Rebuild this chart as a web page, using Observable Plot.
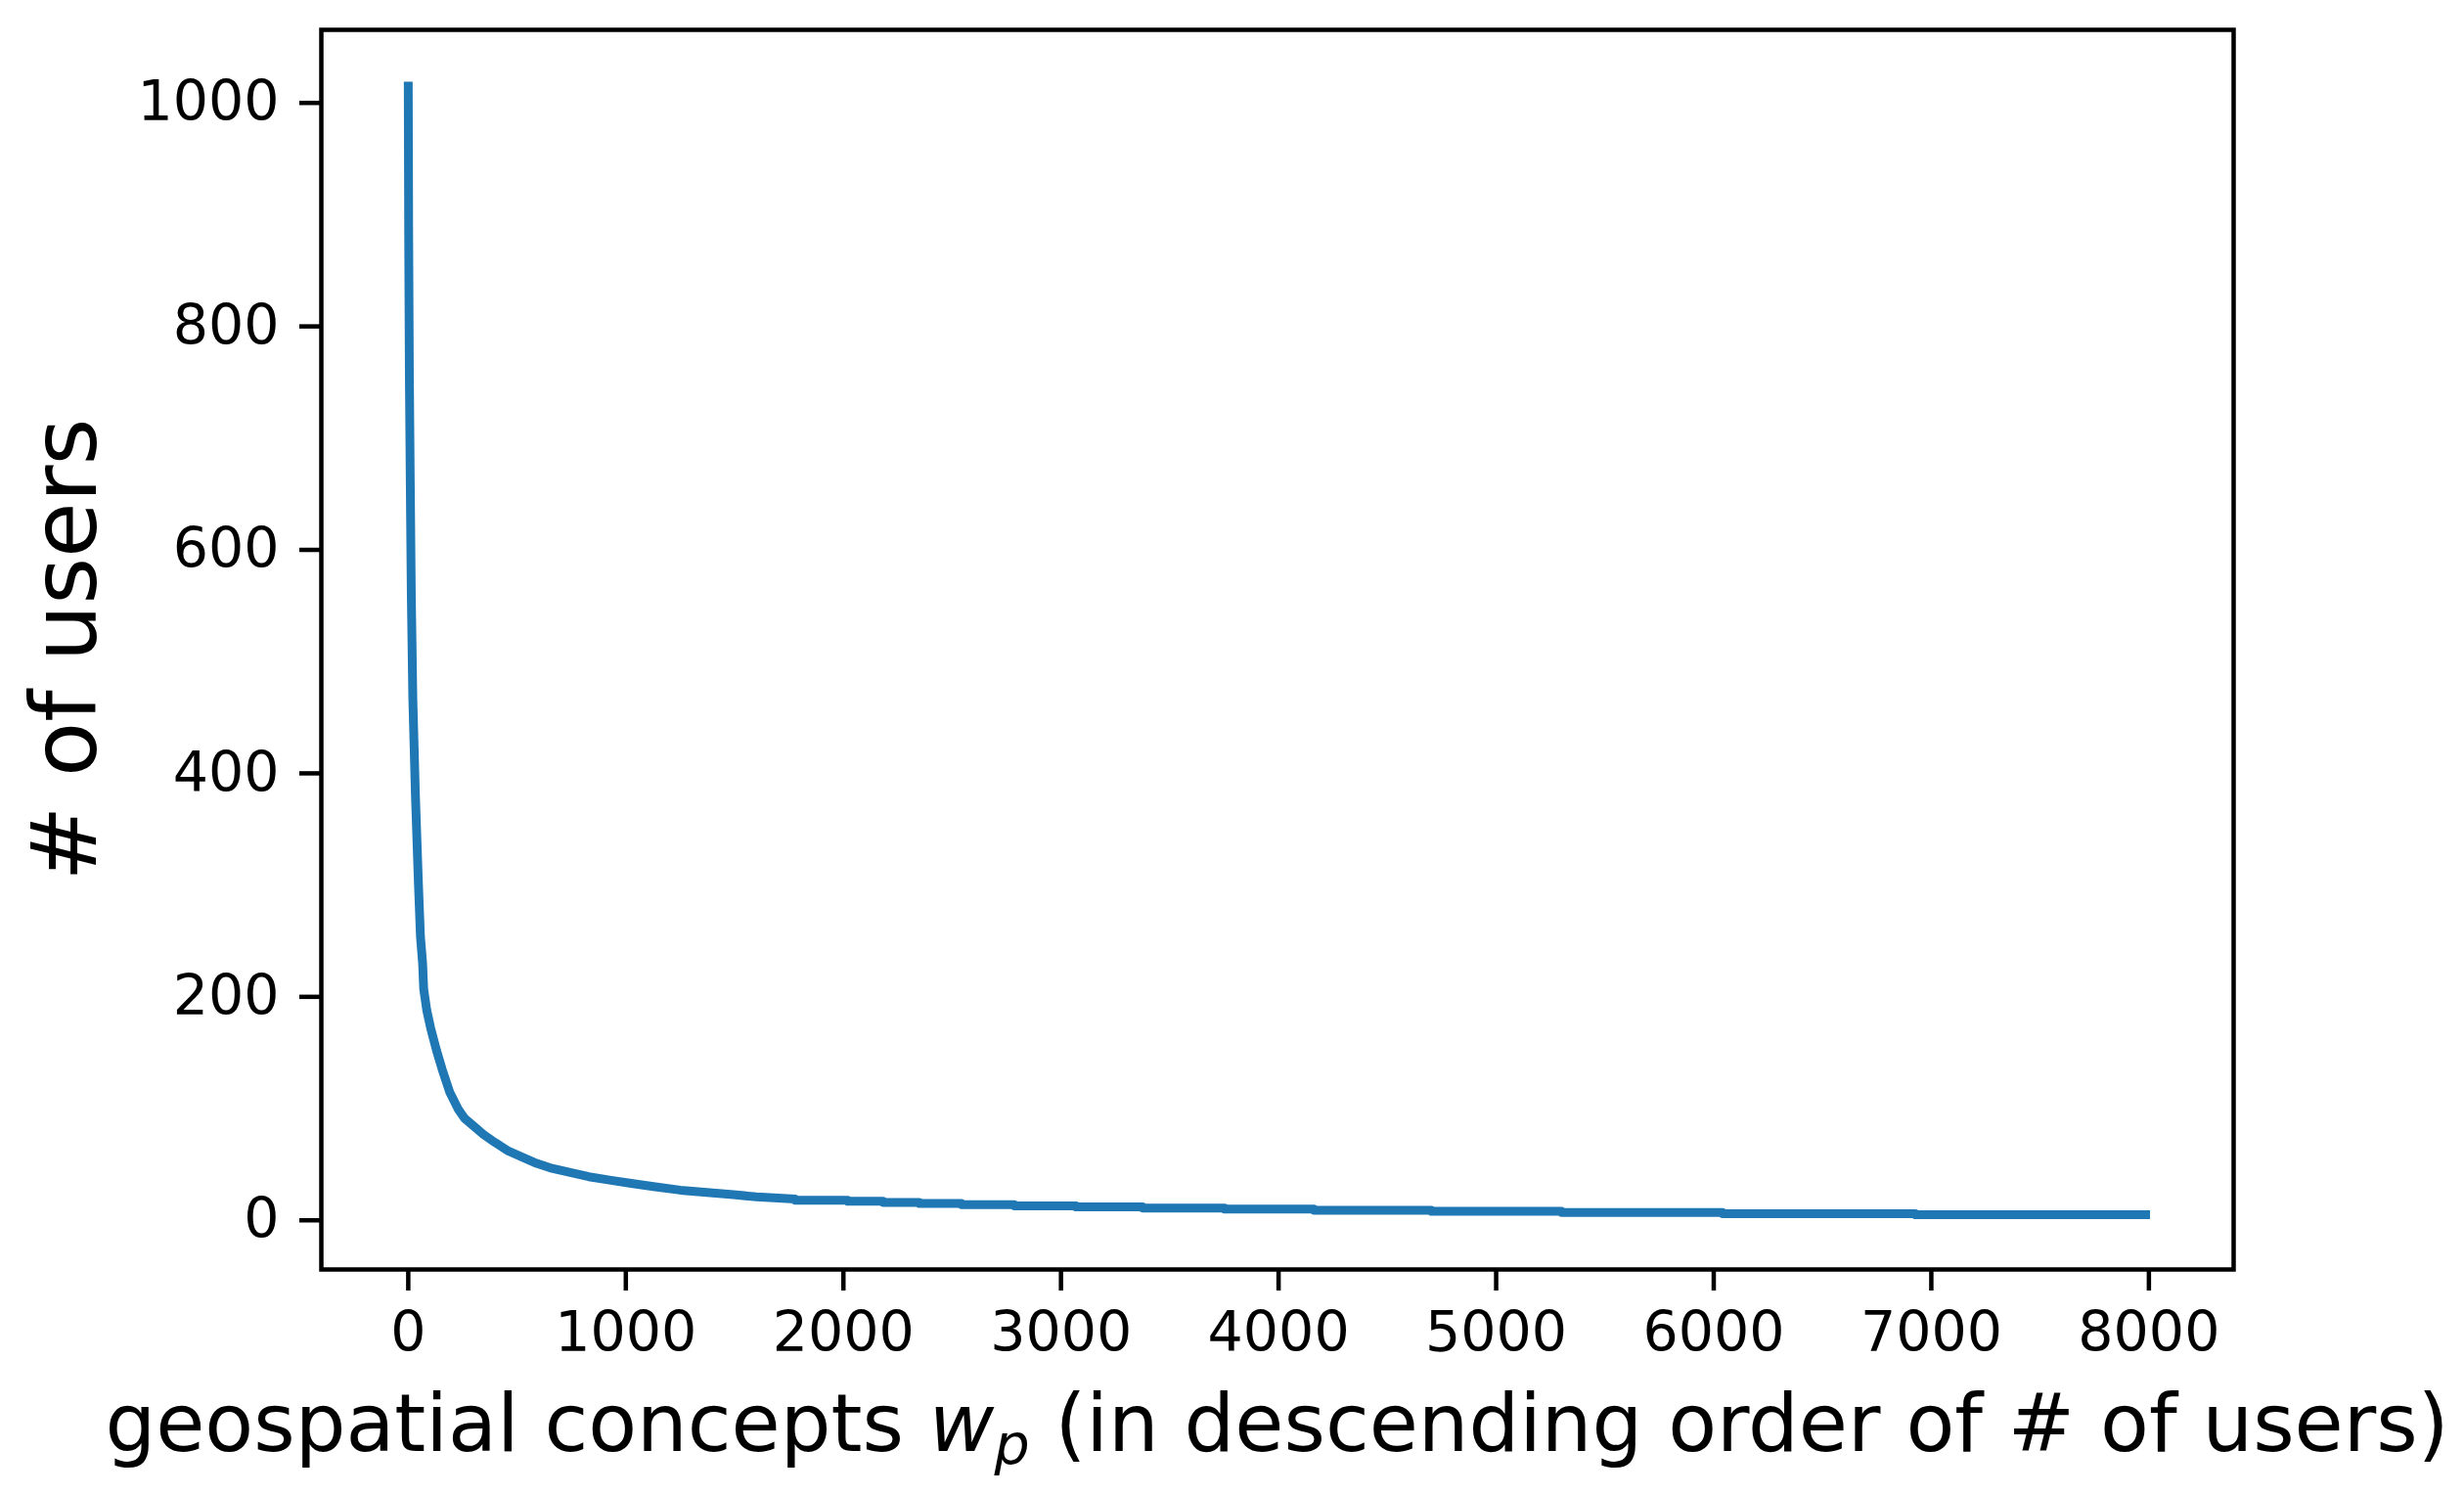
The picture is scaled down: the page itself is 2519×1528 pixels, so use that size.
<!DOCTYPE html>
<html>
<head>
<meta charset="utf-8">
<script src="https://cdn.jsdelivr.net/npm/d3@7"></script>
<script src="https://cdn.jsdelivr.net/npm/@observablehq/plot@0.6"></script>
<style>
  html, body { margin: 0; padding: 0; background: #ffffff; }
</style>
</head>
<body>
<div id="chart"></div>
<script>
// rank of geospatial concept (descending order of # of users)
const ranks = [
  0, 2, 5, 9, 14, 21, 33, 47, 56, 66, 71, 85, 103, 130, 156, 190, 231, 260, 297, 345,
  396, 460, 531, 590, 651, 740, 830, 925, 1025, 1135, 1250, 1372, 1494, 1600, 1700, 1777,
  1778, 2020, 2021, 2182, 2183, 2349, 2350, 2542, 2543, 2785, 2786, 3069, 3070, 3375,
  3376, 3752, 3753, 4162, 4163, 4702, 4703, 5300, 5301, 6040, 6041, 6927, 6928, 7985
];
// number of users for each rank above
const users = [
  1015, 880, 760, 665, 560, 467, 380, 300, 254, 230, 207, 188, 172, 152, 135, 115, 99, 91, 85, 77,
  70, 62, 56, 51, 47, 43, 39, 36, 33, 30, 27, 25, 23, 21, 20, 19,
  18, 18, 17, 17, 16, 16, 15, 15, 14, 14, 13, 13, 12, 12,
  11, 11, 10, 10, 9, 9, 8, 8, 7, 7, 6, 6, 5, 5
];
const xTicks = [0, 1000, 2000, 3000, 4000, 5000, 6000, 7000, 8000];
const yTicks = [0, 200, 400, 600, 800, 1000];
const yLabel = "# of users";
const xLabelParts = ["geospatial concepts ", "w", "p", " (in descending order of # of users)"];

const data = ranks.map((r, i) => ({rank: r, users: users[i]}));

const chart = Plot.plot({
  width: 2519,
  height: 1528,
  marginLeft: 328,
  marginRight: 236,
  marginTop: 30,
  marginBottom: 231,
  style: {fontFamily: "DejaVu Sans", fontSize: "57px", color: "black", background: "white"},
  x: {domain: [-399.5, 8389.5]},
  y: {domain: [-44, 1065.4]},
  marks: [
    Plot.line(data, {
      x: "rank", y: "users",
      stroke: "#1f77b4", strokeWidth: 9,
      strokeLinecap: "square", strokeLinejoin: "round"
    }),
    Plot.axisX({
      ticks: xTicks, tickFormat: d => String(d), tickSize: 22, tickPadding: 21,
      fontSize: 57, strokeWidth: 4.5, label: null
    }),
    Plot.axisY({
      ticks: yTicks, tickFormat: d => String(d), tickSize: 22, tickPadding: 21,
      fontSize: 57, strokeWidth: 4.5, label: null
    }),
    Plot.frame({stroke: "black", strokeWidth: 4.5}),
    Plot.text([yLabel], {
      text: d => d, frameAnchor: "left", textAnchor: "middle", rotate: -90,
      dx: -260, fontSize: 92, fill: "black"
    })
  ]
});

const svg = d3.select(chart);
const xl = svg.append("text")
  .attr("x", (328 + 2283) / 2)
  .attr("y", 1483)
  .attr("text-anchor", "middle")
  .attr("font-family", "DejaVu Sans")
  .attr("font-size", 81.5)
  .attr("fill", "black");
xl.append("tspan").text(xLabelParts[0]);
xl.append("tspan").attr("font-style", "italic").text(xLabelParts[1]);
xl.append("tspan").attr("font-style", "italic").attr("font-size", 57).attr("dy", 13).text(xLabelParts[2]);
xl.append("tspan").attr("dy", -13).text(xLabelParts[3]);

document.getElementById("chart").appendChild(chart);
</script>
</body>
</html>
